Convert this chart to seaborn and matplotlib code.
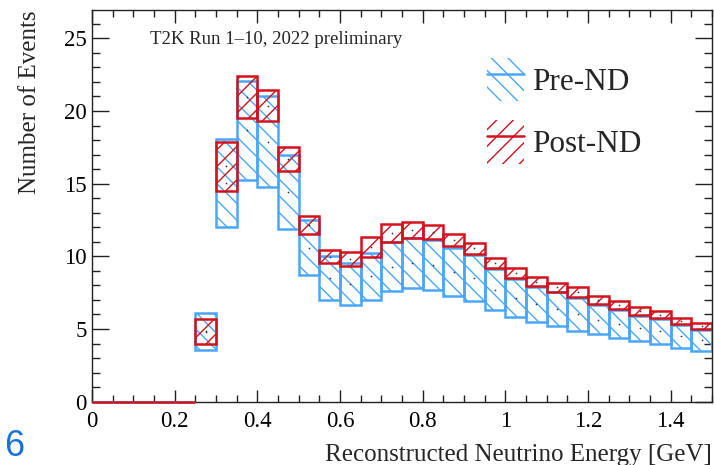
import numpy as np
import pandas as pd
import matplotlib
matplotlib.use("Agg")
import matplotlib.pyplot as plt
import seaborn as sns
from matplotlib.patches import Patch
from matplotlib.lines import Line2D
from matplotlib.legend_handler import HandlerTuple
from matplotlib.ticker import MultipleLocator, FuncFormatter

# ---------------- data ----------------
bin_edges = [0.00, 0.05, 0.10, 0.15, 0.20, 0.25, 0.30, 0.35, 0.40, 0.45, 0.50,
             0.55, 0.60, 0.65, 0.70, 0.75, 0.80, 0.85, 0.90, 0.95, 1.00,
             1.05, 1.10, 1.15, 1.20, 1.25, 1.30, 1.35, 1.40, 1.45, 1.50]

pre_low = [0, 0, 0, 0, 0, 3.56, 12.00, 15.25, 14.75, 11.88, 8.71, 7.02, 6.63,
           6.99, 7.61, 7.80, 7.68, 7.27, 6.94, 6.31, 5.80, 5.50, 5.23, 4.88,
           4.63, 4.40, 4.17, 3.95, 3.71, 3.51]
pre_high = [0, 0, 0, 0, 0, 6.08, 18.09, 22.06, 21.05, 16.99, 12.50, 10.00, 9.56,
            10.25, 10.96, 11.28, 11.12, 10.59, 10.09, 9.10, 8.42, 7.91, 7.52,
            7.13, 6.66, 6.33, 5.90, 5.70, 5.28, 4.94]
pre_central = [0, 0, 0, 0, 0, 4.82, 15.05, 18.66, 17.90, 14.44, 10.60, 8.51, 8.10,
               8.62, 9.29, 9.54, 9.40, 8.93, 8.52, 7.70, 7.11, 6.70, 6.38, 6.00,
               5.65, 5.37, 5.04, 4.83, 4.50, 4.23]

post_low = [0, 0, 0, 0, 0, 3.97, 14.51, 19.53, 19.28, 15.85, 11.55, 9.54, 9.33,
            9.93, 10.96, 11.28, 11.19, 10.73, 10.18, 9.17, 8.49, 7.96, 7.57,
            7.18, 6.72, 6.38, 5.96, 5.74, 5.32, 4.98]
post_high = [0, 0, 0, 0, 0, 5.69, 17.88, 22.40, 21.44, 17.52, 12.80, 10.43, 10.30,
             11.35, 12.20, 12.36, 12.15, 11.53, 10.92, 9.86, 9.17, 8.56, 8.19,
             7.87, 7.29, 6.93, 6.49, 6.24, 5.78, 5.43]
post_central = [0, 0, 0, 0, 0, 4.83, 16.20, 20.97, 20.36, 16.69, 12.18, 9.99, 9.82,
                10.64, 11.58, 11.82, 11.67, 11.13, 10.55, 9.52, 8.83, 8.26, 7.88,
                7.53, 7.00, 6.66, 6.23, 5.99, 5.55, 5.20]

x_tick_values = [0, 0.2, 0.4, 0.6, 0.8, 1.0, 1.2, 1.4]
y_tick_values = [0, 5, 10, 15, 20, 25]

series_labels = ["Pre-ND", "Post-ND"]
annotation = "T2K Run 1\u201310, 2022 preliminary"
x_label = "Reconstructed Neutrino Energy [GeV]"
y_label = "Number of Events"

BLUE = "#4aa6ff"
RED = "#d2121c"

# ---------------- style ----------------
sns.set_theme(style="ticks")
plt.rcParams["font.family"] = ["Liberation Serif", "DejaVu Serif"]
plt.rcParams["hatch.linewidth"] = 1.0
plt.rcParams["axes.linewidth"] = 1.0

fig = plt.figure(figsize=(7.14, 4.65), dpi=100)
ax = fig.add_axes([92 / 714, 63.3 / 465, 620 / 714, 391.7 / 465])

edges = np.array(bin_edges)
centers = (edges[:-1] + edges[1:]) / 2


def draw_band(low, high, color, hatch, z):
    low = np.array(low, dtype=float)
    high = np.array(high, dtype=float)
    df = pd.DataFrame({
        "E": np.concatenate([centers, centers]),
        "w": np.concatenate([low, high - low]),
        "part": ["base"] * len(centers) + ["band"] * len(centers),
    })
    n_before = len(ax.containers)
    sns.histplot(data=df, x="E", weights="w", hue="part",
                 hue_order=["band", "base"], multiple="stack",
                 bins=list(bin_edges), palette={"band": color, "base": "white"},
                 legend=False, ax=ax)
    for cont in ax.containers[n_before:]:
        is_base = all(abs(p.get_y()) < 1e-9 for p in cont)
        for p in cont:
            if is_base:
                p.set_visible(False)
            else:
                p.set_facecolor("none")
                p.set_edgecolor(color)
                p.set_hatch(hatch)
                p.set_linewidth(1.8)
                p.set_zorder(z)
                if p.get_height() == 0:
                    p.set_clip_on(False)
                    p.set_zorder(z + 2)


draw_band(pre_low, pre_high, BLUE, "\\\\", 2)
draw_band(post_low, post_high, RED, "//", 3)

# central values (small dots)
mask = np.array(pre_high) > 0
dots = pd.DataFrame({
    "E": np.concatenate([centers[mask], centers[mask]]),
    "v": np.concatenate([np.array(pre_central)[mask], np.array(post_central)[mask]]),
})
sns.scatterplot(data=dots, x="E", y="v", s=1.5, color="#333333", linewidth=0,
                ax=ax, zorder=4, legend=False)

# ---------------- axes ----------------
ax.set_xlim(0, 1.5)
ax.set_ylim(0, 26.95)
ax.set_xticks(x_tick_values)
ax.set_yticks(y_tick_values)
ax.xaxis.set_minor_locator(MultipleLocator(0.05))
ax.yaxis.set_minor_locator(MultipleLocator(1))
ax.xaxis.set_major_formatter(FuncFormatter(lambda v, p: f"{v:g}"))
ax.yaxis.set_major_formatter(FuncFormatter(lambda v, p: f"{v:g}"))

ax.tick_params(which="both", direction="in", top=True, right=True,
               colors="#222222", labelcolor="black", width=1.0)
ax.tick_params(axis="x", which="major", length=9, labelsize=16.5, pad=7)
ax.tick_params(axis="x", which="minor", length=5)
ax.tick_params(axis="y", which="major", length=12, labelsize=16.5, pad=4)
ax.tick_params(axis="y", which="minor", length=6)
for s in ax.spines.values():
    s.set_color("#222222")
    s.set_linewidth(1.0)

ax.set_xlabel(x_label, fontsize=18, loc="right", labelpad=8)
ax.set_ylabel(y_label, fontsize=18, loc="top", labelpad=16)

ax.text((150 - 92) / 620, 0.913, annotation, transform=ax.transAxes,
        fontsize=13.5, ha="left", va="baseline")

# legend
h_pre = (Patch(facecolor="none", edgecolor=BLUE, hatch="\\\\", linewidth=0),
         Line2D([], [], color=BLUE, lw=1.8))
h_post = (Patch(facecolor="none", edgecolor=RED, hatch="//", linewidth=0),
          Line2D([], [], color=RED, lw=1.8))
ax.legend([h_pre, h_post], series_labels,
          handler_map={tuple: HandlerTuple(ndivide=1)},
          loc="upper left", bbox_to_anchor=(0.637, 0.878),
          frameon=False, fontsize=22.5, handlelength=1.2, handleheight=1.75,
          handletextpad=0.25, labelspacing=0.62, borderpad=0, borderaxespad=0)

# page number fragment at bottom left
fig.text(4 / 714, 1 / 465, "6", color="#1a72d4", fontsize=26,
         family=["Liberation Sans", "DejaVu Sans"], ha="left", va="bottom")

fig.savefig("out.png", dpi=100)
